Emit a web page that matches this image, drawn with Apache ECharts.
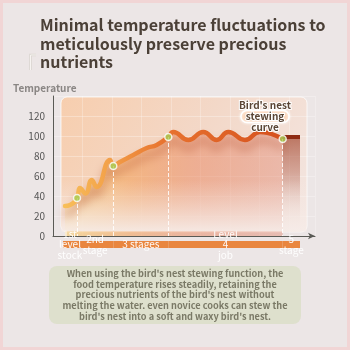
<!DOCTYPE html>
<html><head><meta charset="utf-8">
<script src="https://cdn.jsdelivr.net/npm/echarts@6/dist/echarts.min.js"></script>
<style>html,body{margin:0;padding:0;background:#ece6e6;}#c{width:350px;height:350px;}</style>
</head><body><div id="c"></div>
<script>
// ---- data ----
const timeX = [12,17,24,27,32.5,38.7,43.7,57,60.3,67,80.3,93.7,103.7,115.3,120.3,135.3,150.3,163.7,175.3,192,207,229.7];
const temps = [30,31,38,48,42.5,56,49,76,70,74,81,88,91,99,104,96,104,96,104,96,104,97];
const keyX = [24,60.3,115.3,229.7];
const keyTemps = [38,70,99,97];
const finalX = [229.7,247];
const finalTemps = [99,99];
const stageNames = ['1st\nlevel\nstock','2nd\nstage','3 stages','Level\n4\njob','5\nstage'];
const stageBounds = [10,24,60.3,115.3,229.7,247];
const yTickLabels = ['0','20','40','60','80','100','120'];
const titleText = 'Minimal temperature fluctuations to\nmeticulously preserve precious\nnutrients';
const noteText = "When using the bird's nest stewing function, the\nfood temperature rises steadily, retaining the\nprecious nutrients of the bird's nest without\nmelting the water. even novice cooks can stew the\nbird's nest into a soft and waxy bird's nest.";
const curveLabel = ["Bird's nest", 'stewing', 'curve'];

const FONT = '"Noto Sans CJK SC", "Noto Sans", sans-serif';
const chart = echarts.init(document.getElementById('c'), null, {renderer:'canvas'});
const zip = (a,b) => a.map((v,i)=>[v,b[i]]);
const LG = echarts.graphic.LinearGradient;

const stageSeries = [{
  type:'bar', xAxisIndex:1, yAxisIndex:1, stack:'s', barWidth:'100%', silent:true,
  itemStyle:{color:'transparent'}, data:[stageBounds[0]]
}].concat(stageNames.map((n,i)=>({
  type:'bar', xAxisIndex:1, yAxisIndex:1, stack:'s', barWidth:'100%', silent:true,
  itemStyle:{color:'#e9863f'},
  label:{show:true, position:'inside', formatter:n, color:'rgba(255,255,255,0.95)', fontSize:10, lineHeight:10.5, fontFamily:FONT},
  data:[stageBounds[i+1]-stageBounds[i]]
})));

const labelText = (t, y) => ({type:'text', z:8, x:265, y:y,
  style:{text:t, textAlign:'center', textVerticalAlign:'middle', fill:'#5a4535', stroke:'#fff', lineWidth:2, fontSize:10, fontWeight:'bold', fontFamily:FONT}});

chart.setOption({
  backgroundColor:'#ece6e6',
  animation:false,
  title:{
    text:titleText, left:40, top:16, padding:0,
    textStyle:{fontFamily:FONT, fontSize:16, fontWeight:'bold', lineHeight:18.5, color:'#4b4037'}
  },
  grid:[
    {left:53, right:35, top:96, bottom:114},
    {left:53, right:35, top:241, height:7}
  ],
  xAxis:[
    {type:'value', min:0, max:262, interval:29.5,
     axisLine:{show:true, lineStyle:{color:'#5a5a55', width:1}, symbol:['none','arrow'], symbolSize:[5,7]},
     axisTick:{show:false}, axisLabel:{show:false},
     splitLine:{show:true, lineStyle:{color:'rgba(255,255,255,0.25)'}}},
    {type:'value', gridIndex:1, min:0, max:262, show:false}
  ],
  yAxis:[
    {type:'value', min:0, max:140, interval:20,
     axisLine:{show:true, lineStyle:{color:'#5a5a55', width:1}},
     axisTick:{show:false},
     axisLabel:{color:'#555', fontSize:10, fontFamily:FONT, margin:8,
       formatter:(v)=>{const i=v/20; return i<yTickLabels.length?yTickLabels[i]:'';}},
     splitLine:{show:true, lineStyle:{color:'rgba(255,255,255,0.3)'}}},
    {type:'category', gridIndex:1, data:['stage'], show:false}
  ],
  graphic:[
    {type:'rect', z:-10, shape:{x:1.5,y:1.5,width:347,height:347}, style:{fill:'none', stroke:'#f1d5d5', lineWidth:3}},
    {type:'polyline', z:0, shape:{points:[[36,55],[30.5,55],[30.5,70]]}, style:{stroke:'#d9d5cf', lineWidth:2.5, fill:'none'}},
    {type:'polyline', z:0, shape:{points:[[36,55],[30.5,55],[30.5,70]]}, style:{stroke:'#f7f4f1', lineWidth:1, fill:'none'}},
    {type:'text', z:5, left:13, top:83, style:{text:'Temperature', fill:'#8a8684', fontSize:10, fontFamily:FONT, fontWeight:'bold'}},
    {type:'rect', z:0, shape:{x:61,y:97,width:246,height:135,r:6},
     style:{fill:new LG(0,0,1,1,[{offset:0,color:'#f7ceae'},{offset:0.5,color:'#f3d8c8'},{offset:1,color:'#f3e6e2'}]),
            stroke:'rgba(255,255,255,0.75)', lineWidth:1}},
    {type:'rect', z:3, shape:{x:61.5,y:180,width:245,height:51.5},
     style:{fill:new LG(0,0,0,1,[{offset:0,color:'rgba(246,232,226,0)'},{offset:1,color:'rgba(246,236,232,0.93)'}])}},
    {type:'rect', z:7, shape:{x:241,y:110.5,width:48,height:12,r:6},
     style:{fill:'#fbd6bb', stroke:'#fff', lineWidth:1.5, shadowColor:'rgba(255,255,255,0.9)', shadowBlur:3}},
    labelText(curveLabel[0], 105),
    labelText(curveLabel[1], 116.5),
    labelText(curveLabel[2], 127.5),
    {type:'rect', z:1, shape:{x:49,y:266,width:252,height:58,r:8}, style:{fill:'#dee0cd'}},
    {type:'text', z:2, x:175, y:295, style:{text:noteText, textAlign:'center', textVerticalAlign:'middle', fill:'#7a7966', fontSize:9.2, lineHeight:10.7, fontWeight:'bold', fontFamily:FONT}}
  ],
  series:[
    {type:'line', data:zip(timeX,temps), smooth:0.5, showSymbol:false, silent:true, z:2,
     lineStyle:{width:0},
     areaStyle:{color:new LG(0,0,1,0,[{offset:0,color:'rgba(248,205,115,0.9)'},{offset:0.3,color:'rgba(242,160,90,0.85)'},{offset:0.6,color:'rgba(232,130,90,0.7)'},{offset:1,color:'rgba(222,120,95,0.55)'}])}},
    {type:'line', data:zip(finalX,finalTemps), showSymbol:false, silent:true, z:2,
     lineStyle:{width:0},
     areaStyle:{color:new LG(0,0,0,1,[{offset:0,color:'rgba(160,65,40,0.95)'},{offset:0.35,color:'rgba(180,100,80,0.7)'},{offset:1,color:'rgba(240,225,222,0.2)'}])}},
    {type:'line', data:zip(timeX,temps), smooth:0.5, showSymbol:false, silent:true, z:4,
     lineStyle:{width:4.5, cap:'round',
       color:new LG(0,0,1,0,[{offset:0,color:'#f8c05a'},{offset:0.2,color:'#f3a24a'},{offset:0.45,color:'#e8742f'},{offset:1,color:'#d5501e'}]),
       shadowColor:'rgba(170,60,25,0.45)', shadowBlur:10, shadowOffsetY:8}},
    {type:'line', data:zip(finalX,finalTemps), showSymbol:false, silent:true, z:4,
     lineStyle:{width:4, color:'#8e2b12'}},
    {type:'scatter', data:zip(keyX,keyTemps), symbolSize:7, silent:true, z:6,
     itemStyle:{color:'#a8d05a', borderColor:'#fff', borderWidth:1.5},
     markLine:{silent:true, symbol:'none', label:{show:false},
       lineStyle:{type:'dashed', color:'rgba(255,255,255,0.85)', width:1},
       data:keyX.map((x,i)=>[{coord:[x,keyTemps[i]]},{coord:[x,0]}])}}
  ].concat(stageSeries)
});
</script></body></html>
